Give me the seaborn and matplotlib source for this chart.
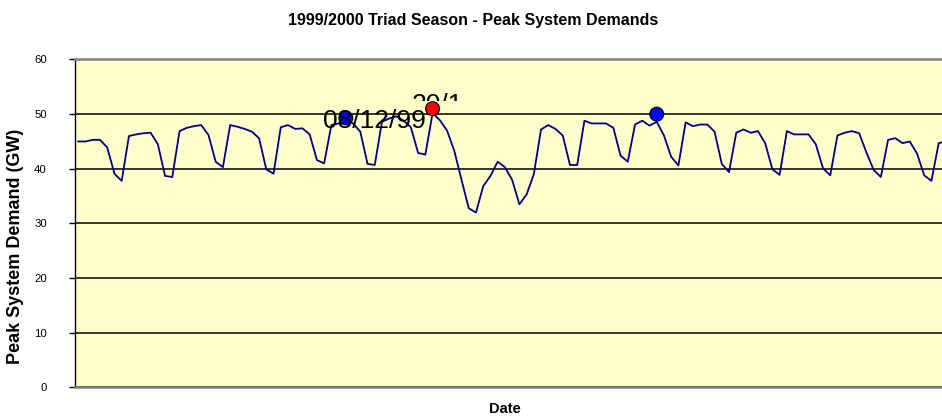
import pandas as pd
import matplotlib
matplotlib.use('Agg')
import matplotlib.pyplot as plt
import matplotlib.dates as mdates
from matplotlib.transforms import Bbox
import seaborn as sns

# daily peak demand, 1 Nov 1999 - 29 Feb 2000 (GW)
start_date = '1999-11-01'
end_date = '2000-02-29'
demand_gw = [
    45.0, 45.0, 45.3, 45.3, 43.9, 39.1, 37.8,
    46.0, 46.3, 46.5, 46.6, 44.5, 38.7, 38.5,
    46.9, 47.5, 47.8, 48.0, 46.2, 41.3, 40.3,
    48.0, 47.7, 47.3, 46.8, 45.6, 39.9, 39.1,
    47.6, 48.0, 47.3, 47.4, 46.3, 41.6, 41.0,
    48.0, 48.3, 49.0, 48.3, 46.8, 40.9, 40.7,
    48.6, 49.2, 49.6, 48.8, 47.6, 42.9, 42.6,
    50.2, 48.9, 47.0, 43.3, 38.0, 32.8, 32.0,
    36.8, 38.7, 41.3, 40.3, 38.0, 33.5, 35.3,
    39.0, 47.2, 48.0, 47.3, 46.1, 40.7, 40.7,
    48.8, 48.3, 48.3, 48.3, 47.5, 42.4, 41.3,
    48.1, 48.8, 47.9, 48.6, 46.1, 42.2, 40.6,
    48.5, 47.8, 48.1, 48.1, 46.8, 40.9, 39.4,
    46.6, 47.2, 46.6, 46.9, 44.7, 39.9, 38.9,
    46.9, 46.3, 46.3, 46.3, 44.5, 40.1, 38.8,
    46.1, 46.6, 46.9, 46.5, 43.0, 39.8, 38.5,
    45.3, 45.6, 44.7, 45.0, 42.8, 38.8, 37.8,
    44.7, 45.0,
]

# triad points
triad_dates = ['1999-12-08', '1999-12-20', '2000-01-20']
triad_gw = [49.3, 51.0, 50.0]
triad_colors = ['#0000ff', '#ff0000', '#0000ff']

y_ticks = [0, 10, 20, 30, 40, 50, 60]

plt.rcParams['font.family'] = ['Liberation Sans', 'DejaVu Sans']

df = pd.DataFrame({'Date': pd.date_range(start_date, end_date, freq='D'),
                   'Demand': demand_gw})
triads = pd.DataFrame({'Date': pd.to_datetime(triad_dates),
                       'Demand': triad_gw,
                       'Colour': triad_colors})

fig = plt.figure(figsize=(9.42, 4.18), dpi=100)
ax = fig.add_axes([0.0793, 0.073, 0.9287, 0.7847])
ax.set_facecolor('#ffffcc')

sns.lineplot(data=df, x='Date', y='Demand', color='#000080', linewidth=1.3,
             ax=ax, zorder=3)
sns.scatterplot(data=triads, x='Date', y='Demand', hue='Colour',
                palette={c: c for c in triad_colors}, s=100,
                edgecolor='black', linewidth=0.8, legend=False, ax=ax, zorder=4)

day0 = pd.Timestamp(start_date)
ax.set_xlim(mdates.date2num(day0 - pd.Timedelta(hours=12)),
            mdates.date2num(pd.Timestamp(end_date) + pd.Timedelta(hours=12)))
ax.set_ylim(0, 60)
ax.set_yticks(y_ticks)
ax.set_xticks([])
ax.yaxis.grid(True, color='black', linewidth=1.1)
ax.set_axisbelow(True)

ax.spines['left'].set_color('black')
ax.spines['left'].set_linewidth(1.0)
for side in ['top', 'bottom']:
    ax.spines[side].set_color('#808080')
    ax.spines[side].set_linewidth(1.8)
ax.spines['right'].set_visible(False)
ax.tick_params(axis='y', direction='out', length=4, width=1, pad=16,
               labelsize=8.2, colors='black')

ax.set_ylabel('Peak System Demand (GW)', fontsize=13, fontweight='bold')
ax.yaxis.set_label_coords(-0.058, 0.43)
ax.set_xlabel('Date', fontsize=10.5, fontweight='bold')
ax.xaxis.set_label_coords(0.492, -0.045)
fig.suptitle('1999/2000 Triad Season - Peak System Demands', x=0.502, y=0.968,
             fontsize=11.5, fontweight='bold')

# data labels
ax.text(mdates.date2num(day0 + pd.Timedelta(days=33.8)), 47.4, '08/12/99',
        fontsize=19, ha='left', va='baseline', zorder=5)
lab = ax.text(mdates.date2num(day0 + pd.Timedelta(days=46.1)), 50.4, '20/1',
              fontsize=19, ha='left', va='baseline', zorder=5, clip_on=True)
lab.set_clip_box(Bbox([[400, 317], [480, 360]]))

fig.savefig('out.png', dpi=100)
